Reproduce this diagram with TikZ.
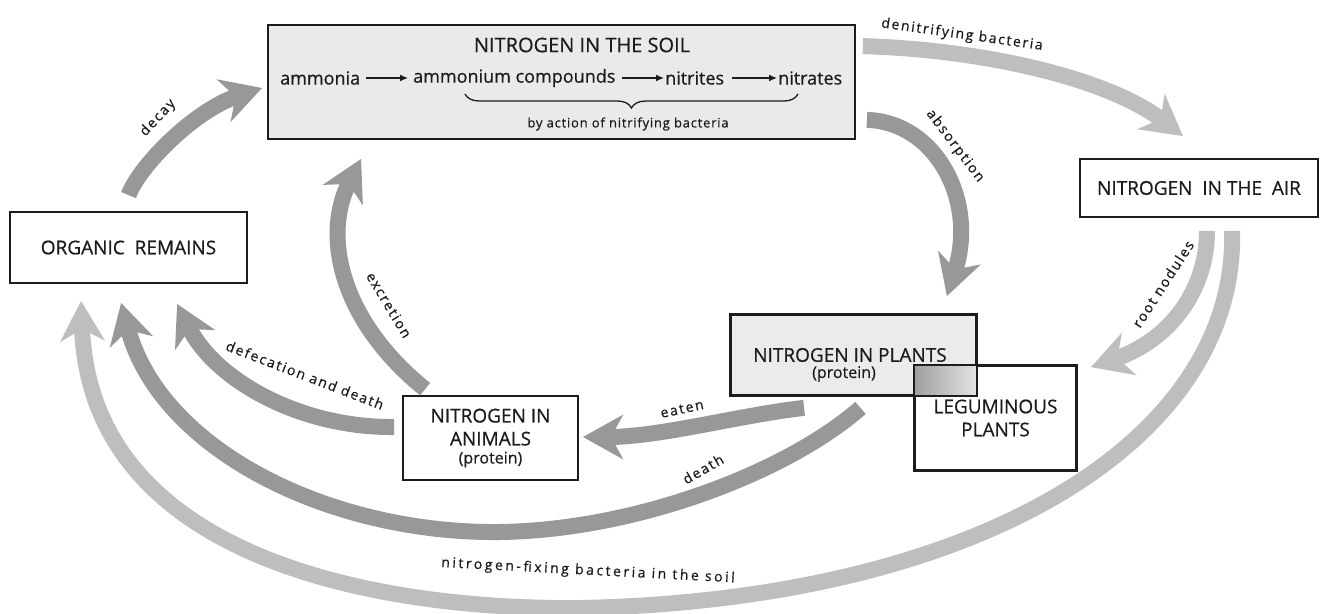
\documentclass[tikz,border=0pt]{standalone}
\usepackage{fontspec}
\setmainfont{Open Sans}[FakeBold=0.6]
\newfontfamily\spacedfamily{Open Sans}[LetterSpace=12,FakeBold=0.6]
\newfontfamily\notefamily{Open Sans}[LetterSpace=6,FakeBold=0.6]
\usetikzlibrary{arrows.meta,decorations.pathreplacing,calc}
\definecolor{flow}{HTML}{989898}
\definecolor{flowpale}{HTML}{BEBEBE}
\definecolor{soilfill}{HTML}{EAEAEA}
\definecolor{plantfill}{HTML}{EBEBEB}
\definecolor{ink}{HTML}{1C1C1C}
\newcommand\boxfont{\fontsize{19}{23}\selectfont}
\newcommand\titlefont{\fontsize{20}{24}\selectfont}
\newcommand\protfont{\fontsize{16}{20}\selectfont}
\newcommand\rowfont{\fontsize{18}{20}\selectfont}
\newcommand\labfont{\spacedfamily\fontsize{14}{16}\selectfont}
\newcommand\notefont{\notefamily\fontsize{13}{15}\selectfont}
\begin{document}
\begin{tikzpicture}[x=1pt,y=-1pt,
  box/.style={draw=ink, line width=1.8pt, inner sep=0pt, align=center, font=\boxfont, text=ink},
  txt/.style={inner sep=0pt, text=ink},
  flowarrow/.style={line width=16pt, draw=flow,
    -{Stealth[length=40pt,width=44pt,inset=12pt]}},
  palearrow/.style={flowarrow, draw=flowpale},
  lab/.style={inner sep=0pt, text=ink, font=\labfont},
  chem/.style={-{Latex[length=8pt,width=7pt]}, line width=1.3pt, draw=ink}
]
\useasboundingbox (0,0) rectangle (1322,613);

% ---- boxes ----
\node[box, fill=soilfill, minimum width=587pt, minimum height=114pt] (soil) at (561.5,82) {};
\node[box, fill=white, minimum width=237pt, minimum height=71pt] (organic) at (128.5,247.5) {ORGANIC\ \ REMAINS};
\node[box, fill=white, minimum width=238pt, minimum height=58pt] (air) at (1199,188) {NITROGEN\ \ IN THE\ \ AIR};
\node[box, fill=plantfill, minimum width=245pt, minimum height=80pt] (plants) at (853.5,355) {};
\node[box, minimum width=161pt, minimum height=104pt] (legum) at (995.5,418) {LEGUMINOUS\\PLANTS};
\node[box, fill=white, minimum width=175pt, minimum height=84pt] (animals) at (490.5,438)
  {NITROGEN IN\\ANIMALS\\[-5pt]{\protfont(protein)}};

% overlap of the two plant boxes
\fill[left color=gray!75, right color=gray!22]
  (legum.north west) rectangle (plants.south east);
\draw[ink, line width=1.8pt] (plants.north west) rectangle (plants.south east);
\draw[ink, line width=1.8pt] (legum.north west) rectangle (legum.south east);
\node[txt, font=\boxfont] (plantstitle) at (850,355) {NITROGEN IN PLANTS};
\node[txt, font=\protfont] (plantsprot) at (844,374) {(protein)};

% ---- contents of the soil box ----
\node[txt, font=\titlefont] (soiltitle) at (582,45) {NITROGEN IN THE SOIL};
\node[txt, font=\rowfont, anchor=west] (ammonia) at (280,78) {ammonia};
\node[txt, font=\rowfont, anchor=west] (ammcomp) at (413,78) {ammonium compounds};
\node[txt, font=\rowfont, anchor=west] (nitrites) at (665,78) {nitrites};
\node[txt, font=\rowfont, anchor=west] (nitrates) at (778,78) {nitrates};
\draw[chem, shorten <=6pt, shorten >=5pt] (ammonia.east) -- (ammcomp.west);
\draw[chem, shorten <=6pt, shorten >=1pt] (ammcomp.east) -- (nitrites.west);
\draw[chem, shorten <=8pt, shorten >=1pt] (nitrites.east) -- (nitrates.west);
\coordinate (braceL) at (465,94);
\coordinate (braceR) at (798,94);
\draw[ink, line width=1.3pt, decoration={brace, mirror, amplitude=14pt}, decorate]
  (braceL) -- (braceR);
\node[txt, font=\notefont] (nitrifying) at (628,124) {by action of nitrifying bacteria};

% ---- flows ----
% decay
\draw[flowarrow] ($(organic.north)+(0,-16)$)
  .. controls (140,165) and (195,110) .. ($(soil.west)+(-5,6)$);
% denitrifying bacteria
\draw[palearrow] ($(soil.north east)+(7,22)$)
  .. controls (990,50) and (1110,80) .. ($(air.north)+(-16,-22)$);
% absorption
\draw[flowarrow] ($(soil.south east)+(11,-20)$)
  .. controls (935,122) and (978,200) .. ($(plants.north east)+(-30,-18)$);
% root nodules
\draw[palearrow] ($(air.south)+(8,13)$)
  .. controls (1207,290) and (1170,340) .. ($(legum.north east)+(14,2)$);
% nitrogen-fixing bacteria in the soil
\draw[palearrow] ($(air.south)+(33,13)$)
  .. controls (1238,440) and (980,600) .. (580,608)
  .. controls (380,610) and (90,560) .. ($(organic.south west)+(72,17)$);
% death
\draw[flowarrow] ($(plants.south)+(7,12)$)
  .. controls (790,470) and (640,530) .. (500,532)
  .. controls (330,534) and (160,450) .. ($(organic.south west)+(112,19)$);
% defecation and death
\draw[flowarrow] ($(animals.west)+(-8,-11)$)
  .. controls (300,428) and (215,380) .. ($(organic.south west)+(168,20)$);
% excretion
\draw[flowarrow] ($(animals.north west)+(23,-6)$)
  .. controls (345,325) and (320,240) .. ($(soil.south west)+(94,19)$);
% eaten
\draw[flowarrow] ($(plants.south west)+(74,12)$)
  .. controls (740,415) and (660,437) .. ($(animals.east)+(4,-1)$);

% ---- flow labels ----
\node[lab, rotate=47] (ldecay) at (158,118) {decay};
\node[lab, rotate=-8] (ldenit) at (962,35) {denitrifying bacteria};
\node[lab, rotate=-53] (labs) at (955,146) {absorption};
\node[lab, rotate=57] (lroot) at (1163,284) {root nodules};
\node[lab, rotate=-3] (lfix) at (588,571) {\addfontfeature{LetterSpace=18}nitrogen-fixing bacteria in the soil};
\node[lab, rotate=30] (ldeath) at (703,469) {death};
\node[lab, rotate=-21] (ldefec) at (305,375) {defecation and death};
\node[lab, rotate=-59] (lexcr) at (389,305) {excretion};
\node[lab, rotate=12] (leaten) at (682,409) {eaten};
\end{tikzpicture}
\end{document}
